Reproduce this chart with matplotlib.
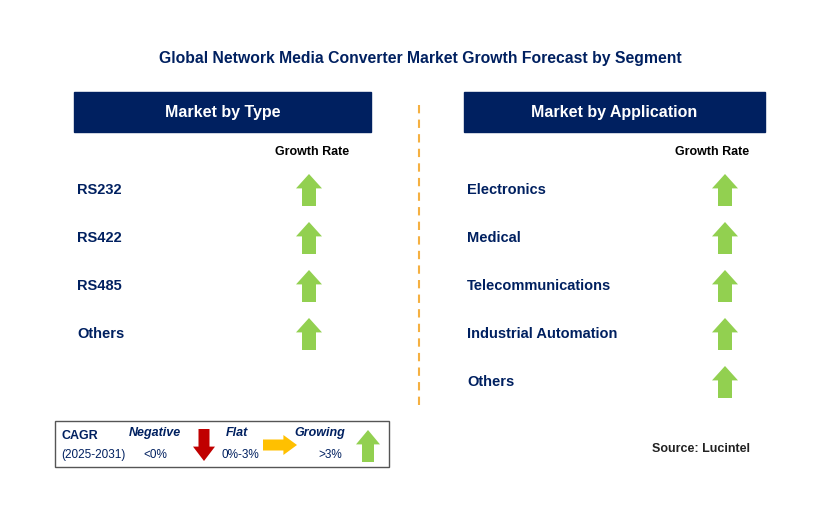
import matplotlib.pyplot as plt
from matplotlib.patches import Polygon, Rectangle

plt.rcParams["font.family"] = "Liberation Sans"

title = "Global Network Media Converter Market Growth Forecast by Segment"
type_labels = ["RS232", "RS422", "RS485", "Others"]
type_trend = ["up", "up", "up", "up"]
app_labels = ["Electronics", "Medical", "Telecommunications", "Industrial Automation", "Others"]
app_trend = ["up", "up", "up", "up", "up"]

navy = "#002060"
green = "#92D050"
red = "#C00000"
yellow = "#FFC000"

fig = plt.figure(figsize=(8.29, 5.13), dpi=100)
ax = fig.add_axes([0, 0, 1, 1])
ax.set_xlim(0, 829)
ax.set_ylim(513, 0)
ax.axis("off")


def arrow(cx, cy, direction, color, w=26, h=32, shaft=14):
    # cx, cy is the centre of the arrow in pixel coords
    if direction == "up":
        pts = [(cx, cy - h / 2), (cx + w / 2, cy - h / 2 + h * 0.45), (cx + shaft / 2, cy - h / 2 + h * 0.45),
               (cx + shaft / 2, cy + h / 2), (cx - shaft / 2, cy + h / 2), (cx - shaft / 2, cy - h / 2 + h * 0.45),
               (cx - w / 2, cy - h / 2 + h * 0.45)]
    elif direction == "down":
        pts = [(cx, cy + h / 2), (cx + w / 2, cy + h / 2 - h * 0.45), (cx + shaft / 2, cy + h / 2 - h * 0.45),
               (cx + shaft / 2, cy - h / 2), (cx - shaft / 2, cy - h / 2), (cx - shaft / 2, cy + h / 2 - h * 0.45),
               (cx - w / 2, cy + h / 2 - h * 0.45)]
    else:
        pts = [(cx + w / 2, cy), (cx + w / 2 - w * 0.4, cy - h / 2), (cx + w / 2 - w * 0.4, cy - shaft / 2),
               (cx - w / 2, cy - shaft / 2), (cx - w / 2, cy + shaft / 2), (cx + w / 2 - w * 0.4, cy + shaft / 2),
               (cx + w / 2 - w * 0.4, cy + h / 2)]
    ax.add_patch(Polygon(pts, closed=True, color=color, lw=0))


ax.text(420, 58, title, ha="center", va="center", fontsize=11.3, fontweight="bold", color=navy)

# panel headers
for x0, x1, label in [(74, 371, "Market by Type"), (464, 765, "Market by Application")]:
    ax.add_patch(Rectangle((x0, 92), x1 - x0, 40, color=navy))
    ax.text((x0 + x1) / 2, 112, label, ha="center", va="center", fontsize=11.5, fontweight="bold", color="white")

ax.text(312, 152, "Growth Rate", ha="center", va="center", fontsize=9, fontweight="bold", color="black")
ax.text(712, 152, "Growth Rate", ha="center", va="center", fontsize=9, fontweight="bold", color="black")

trend_color = {"up": green, "down": red, "flat": yellow}
for i, (lab, tr) in enumerate(zip(type_labels, type_trend)):
    y = 190 + 48 * i
    ax.text(77, y, lab, ha="left", va="center", fontsize=10.5, fontweight="bold", color=navy)
    arrow(309, y, tr, trend_color[tr])
for i, (lab, tr) in enumerate(zip(app_labels, app_trend)):
    y = 190 + 48 * i
    ax.text(467, y, lab, ha="left", va="center", fontsize=10.5, fontweight="bold", color=navy)
    arrow(725, y, tr, trend_color[tr])

ax.plot([419, 419], [105, 405], ls=(0, (4, 3)), color="#F5B041", lw=1.5)

# legend box
ax.add_patch(Rectangle((55, 421), 334, 46, fill=False, ec="#555555", lw=1))
ax.text(62, 436, "CAGR", fontsize=9, fontweight="bold", color=navy, va="center")
ax.text(61, 455, "(2025-2031)", fontsize=8.5, color=navy, va="center")
ax.text(155, 433, "Negative", fontsize=9, fontweight="bold", style="italic", color=navy, ha="center", va="center")
ax.text(155, 455, "<0%", fontsize=8.5, color=navy, ha="center", va="center")
arrow(204, 445, "down", red, w=22, h=32, shaft=11)
ax.text(237, 433, "Flat", fontsize=9, fontweight="bold", style="italic", color=navy, ha="center", va="center")
ax.text(240, 455, "0%-3%", fontsize=8.5, color=navy, ha="center", va="center")
arrow(280, 445, "flat", yellow, w=34, h=20, shaft=11)
ax.text(320, 433, "Growing", fontsize=9, fontweight="bold", style="italic", color=navy, ha="center", va="center")
ax.text(330, 455, ">3%", fontsize=8.5, color=navy, ha="center", va="center")
arrow(368, 446, "up", green, w=24, h=32, shaft=12)

ax.text(750, 449, "Source: Lucintel", ha="right", va="center", fontsize=9, fontweight="bold", color="#222222")

fig.savefig("out.png", dpi=100)
